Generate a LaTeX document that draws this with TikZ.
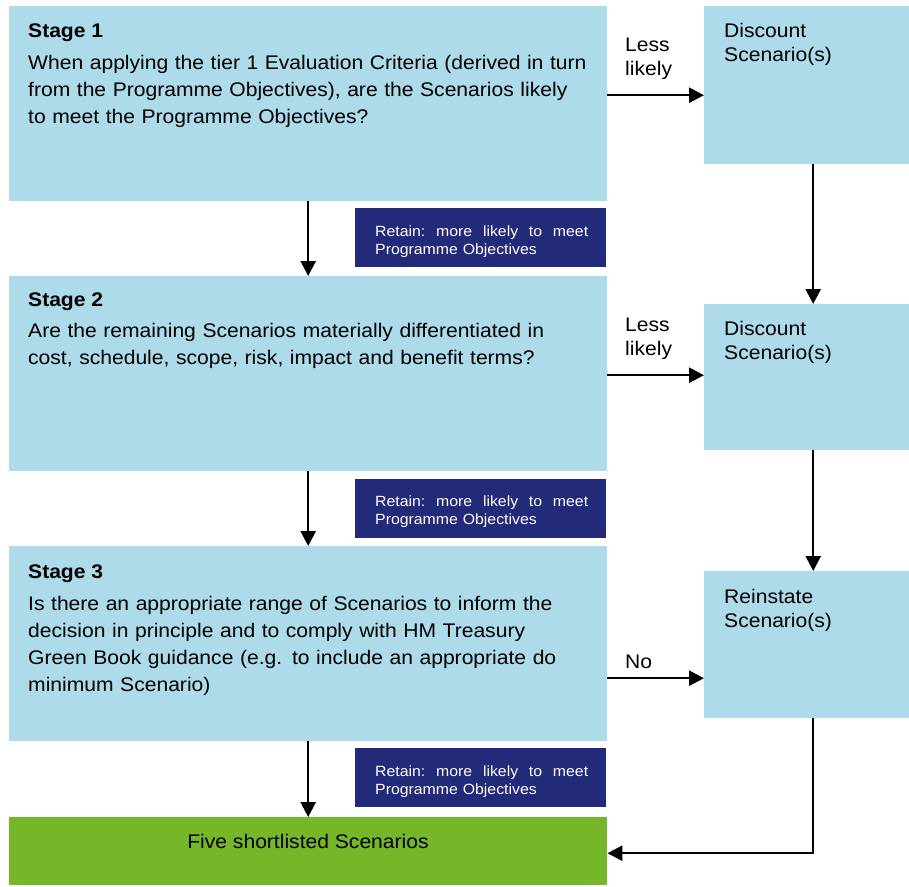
\documentclass[tikz,border=0pt]{standalone}
\usepackage{fontspec}
\setmainfont{Liberation Sans}[FakeStretch=1.07]
\usetikzlibrary{arrows.meta}
\definecolor{paleblue}{RGB}{173,219,234}
\definecolor{navyband}{RGB}{35,42,122}
\definecolor{leafgreen}{RGB}{118,183,42}
\begin{document}
\begin{tikzpicture}[x=1pt,y=-1pt,
  bluebox/.style={fill=paleblue, draw=none, anchor=north west, inner sep=0pt},
  stagebox/.style={bluebox, minimum width=598pt, minimum height=195pt},
  sidebox/.style={bluebox, minimum width=205pt},
  retainbox/.style={fill=navyband, draw=none, anchor=north west, inner sep=0pt,
    minimum width=251pt, minimum height=59pt},
  bodyfont/.style={font=\fontsize{19.7}{27}\selectfont},
  title/.style={anchor=base west, inner sep=0pt, font=\fontsize{19.7}{27}\selectfont\bfseries},
  body/.style={anchor=base west, inner sep=0pt, align=left, text width=575pt, bodyfont},
  sidetext/.style={anchor=base west, inner sep=0pt, align=left, text width=180pt,
    font=\fontsize{19.7}{24.5}\selectfont},
  retaintext/.style={anchor=base west, inner sep=0pt, align=left, text width=213pt,
    text=white, font=\fontsize{14.8}{18.5}\selectfont},
  arr/.style={draw=black, line width=2.5pt,
    -{Triangle[length=15pt,width=15pt]}}
]
\useasboundingbox (0,0) rectangle (909,886);

% main stage boxes
\node[stagebox] (s1) at (9,6) {};
\node[stagebox] (s2) at (9,276) {};
\node[stagebox] (s3) at (9,546) {};
\node[fill=leafgreen, draw=none, anchor=north west, inner sep=0pt,
      minimum width=598pt, minimum height=68pt] (g) at (9,817) {};

% side boxes
\node[sidebox, minimum height=158pt] (d1) at (704,6) {};
\node[sidebox, minimum height=146pt] (d2) at (704,304) {};
\node[sidebox, minimum height=147pt] (r) at (704,571) {};

% retain bands
\node[retainbox] (k1) at (355,208) {};
\node[retainbox] (k2) at (355,479) {};
\node[retainbox] (k3) at (355,748) {};

% stage texts
\node[title] (t1) at (28,37) {Stage 1};
\node[body] (b1) at (28,69) {When applying the tier 1 Evaluation Criteria (derived in turn\\
from the Programme Objectives), are the Scenarios likely\\
to meet the Programme Objectives?};
\node[title] (t2) at (28,306) {Stage 2};
\node[body] (b2) at (28,337) {Are the remaining Scenarios materially differentiated in\\
cost, schedule, scope, risk, impact and benefit terms?};
\node[title] (t3) at (28,578) {Stage 3};
\node[body] (b3) at (28,610) {Is there an appropriate range of Scenarios to inform the\\
decision in principle and to comply with HM Treasury\\
Green Book guidance (e.g. to include an appropriate do\\
minimum Scenario)};
\node[anchor=base, inner sep=0pt, bodyfont] (gt) at (308,848) {Five shortlisted Scenarios};

% side texts
\node[sidetext] (dt1) at (724,37) {Discount\\Scenario(s)};
\node[sidetext] (dt2) at (724,335) {Discount\\Scenario(s)};
\node[sidetext] (rt) at (724,603) {Reinstate\\Scenario(s)};

% branch labels
\node[sidetext] (l1) at (625,51) {Less\\likely};
\node[sidetext] (l2) at (625,331) {Less\\likely};
\node[sidetext] (l3) at (625,668) {No};

% retain texts
\foreach \k/\y in {1/236, 2/506, 3/776} {
  \node[retaintext] (kt\k) at (375,\y)
    {\hbox to 213pt{Retain:\hfill more\hfill likely\hfill to\hfill meet}\\Programme Objectives};
}

% downward flow
\draw[arr] (s1.south) -- (s2.north);
\draw[arr] (s2.south) -- (s3.north);
\draw[arr] (s3.south) -- (g.north);

% sideways branches
\coordinate (e1) at ([yshift=8.5pt]s1.east);
\coordinate (e2) at ([yshift=-1.5pt]s2.east);
\coordinate (e3) at ([yshift=-34.5pt]s3.east);
\draw[arr] (e1) -- (e1 -| d1.west);
\draw[arr] (e2) -- (e2 -| d2.west);
\draw[arr] (e3) -- (e3 -| r.west);

% side column
\draw[arr] ([xshift=6.5pt]d1.south) -- ([xshift=6.5pt]d2.north);
\draw[arr] ([xshift=6.5pt]d2.south) -- ([xshift=6.5pt]r.north);
\coordinate (rb) at ([xshift=6.5pt]r.south);
\draw[arr] (rb) |- ([yshift=-2pt]g.east);
\end{tikzpicture}
\end{document}
